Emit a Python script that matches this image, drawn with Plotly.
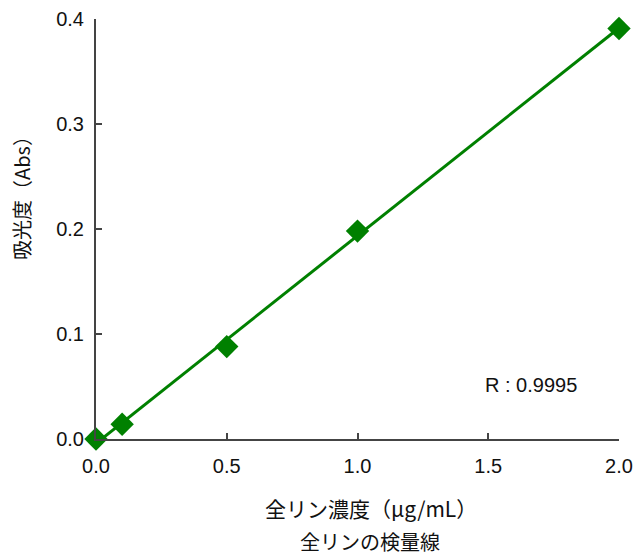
import numpy as np
import plotly.graph_objects as go

conc = [0.0, 0.1, 0.5, 1.0, 2.0]
absorb = [0.0, 0.014, 0.088, 0.198, 0.391]
x_ticks = [0.0, 0.5, 1.0, 1.5, 2.0]
y_ticks = [0.0, 0.1, 0.2, 0.3, 0.4]

slope, intercept = np.polyfit(conc, absorb, 1)
fit_x = [min(conc), max(conc)]
fit_y = [slope * v + intercept for v in fit_x]

green = "#008000"
fig = go.Figure()
fig.add_trace(go.Scatter(x=fit_x, y=fit_y, mode="lines",
                         line=dict(color=green, width=3), cliponaxis=False,
                         showlegend=False, hoverinfo="skip"))
fig.add_trace(go.Scatter(x=conc, y=absorb, mode="markers",
                         marker=dict(symbol="diamond", size=18, color=green),
                         cliponaxis=False, showlegend=False))

axis_common = dict(showgrid=False, zeroline=False, showline=True, automargin=False,
                   linecolor="#444444", linewidth=2, ticks="inside",
                   ticklen=6, tickwidth=1.5, tickcolor="#444444",
                   tickfont=dict(family="Liberation Sans, Arial", size=20, color="#111"))
fig.update_xaxes(range=[0, 2.0], tickvals=x_ticks, ticktext=[f"{v:.1f}" for v in x_ticks],
                 ticklabelstandoff=8, **axis_common)
fig.update_yaxes(range=[0, 0.4], tickvals=y_ticks, ticktext=[f"{v:.1f}" for v in y_ticks],
                 ticklabelstandoff=6, **axis_common)

L, R, T, B = 96, 18, 19, 119
W, H = 637, 558
pw, ph = W - L - R, H - T - B

def px(xp):
    return (xp - L) / pw

def py(yp):
    return (H - B - yp) / ph

jp = "Noto Sans CJK JP"
fig.add_annotation(text="全リン濃度（μg/mL）", xref="paper", yref="paper",
                   x=px(371), y=py(508), showarrow=False, xanchor="center", yanchor="middle",
                   font=dict(family=jp, size=21, color="#111"))
fig.add_annotation(text="全リンの検量線", xref="paper", yref="paper",
                   x=px(370), y=py(541), showarrow=False, xanchor="center", yanchor="middle",
                   font=dict(family=jp, size=20, color="#111"))
fig.add_annotation(text="吸光度（Abs）", xref="paper", yref="paper",
                   x=px(21), y=py(193), showarrow=False, textangle=-90,
                   xanchor="center", yanchor="middle",
                   font=dict(family=jp, size=20, color="#111"))
fig.add_annotation(text="R : 0.9995", xref="paper", yref="paper",
                   x=px(531), y=py(385), showarrow=False,
                   xanchor="center", yanchor="middle",
                   font=dict(family="Liberation Sans, Arial", size=20, color="#111"))

fig.update_layout(width=W, height=H, plot_bgcolor="white", paper_bgcolor="white",
                  margin=dict(l=L, r=R, t=T, b=B))
fig.write_html("out.html", config={"displayModeBar": False},
               post_script="document.body.style.margin='0';document.body.style.overflow='hidden';")
